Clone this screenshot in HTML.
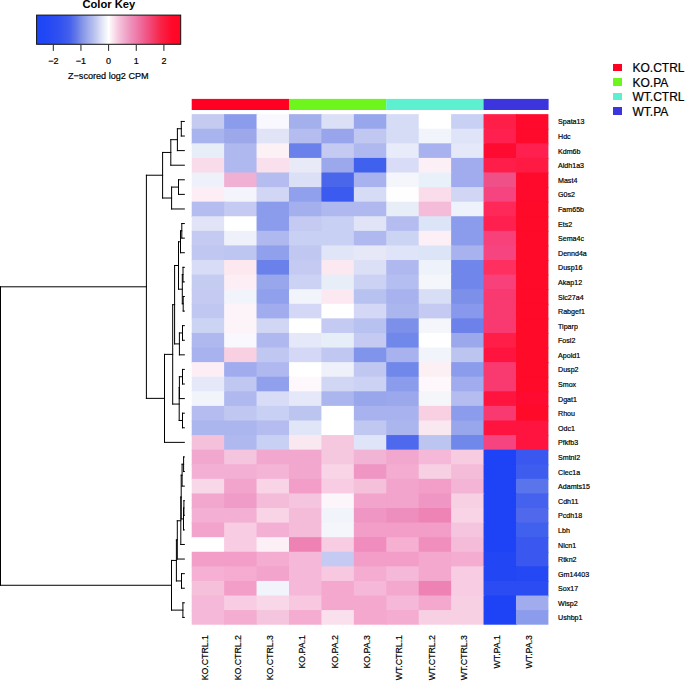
<!DOCTYPE html>
<html><head><meta charset="utf-8"><style>
html,body{margin:0;padding:0;background:#fff;}
body{width:685px;height:681px;position:relative;overflow:hidden;font-family:"Liberation Sans",sans-serif;color:#000;-webkit-font-smoothing:antialiased;}
.rl,.cl,.tk,.kt,.lt{-webkit-text-stroke:0.2px #000;}
svg{position:absolute;left:0;top:0;}
.title{position:absolute;left:82.4px;top:-0.78px;font-size:11.2px;line-height:1;font-weight:bold;white-space:nowrap;}
.tk{position:absolute;top:56.98px;font-size:9px;line-height:1;width:20px;margin-left:-10px;text-align:center;white-space:nowrap;}
.kt{position:absolute;left:68.0px;top:72.10px;font-size:9.1px;line-height:1;white-space:nowrap;}
.rl{position:absolute;left:558px;font-size:7.5px;line-height:1;white-space:nowrap;transform-origin:0 0;transform:scale(0.9467,1);}
.cl{position:absolute;top:634.9px;font-size:9.4px;line-height:1;white-space:nowrap;transform-origin:0 0;transform:rotate(-90deg) scale(0.9362,1) translateX(-100%);}
.lsq{position:absolute;left:613px;width:9px;height:7.4px;}
.lt{position:absolute;left:632.5px;font-size:12px;line-height:1;white-space:nowrap;}
</style></head><body>
<div class="title">Color Key</div>

<svg width="685" height="681" viewBox="0 0 685 681">
<defs><linearGradient id="kg" x1="36.6" x2="180.7" y1="0" y2="0" gradientUnits="userSpaceOnUse"><stop offset="0.0000" stop-color="#1C46F8"/><stop offset="0.0825" stop-color="#2448F4"/><stop offset="0.1555" stop-color="#3050F0"/><stop offset="0.2284" stop-color="#4460EC"/><stop offset="0.2726" stop-color="#6078E8"/><stop offset="0.3167" stop-color="#8494E8"/><stop offset="0.3589" stop-color="#A0ACEC"/><stop offset="0.4031" stop-color="#BCC4F0"/><stop offset="0.4472" stop-color="#DCE0F6"/><stop offset="0.4990" stop-color="#FFFFFF"/><stop offset="0.5278" stop-color="#FBE8F1"/><stop offset="0.5681" stop-color="#F6C6DE"/><stop offset="0.6411" stop-color="#EE98C0"/><stop offset="0.7140" stop-color="#EE70A0"/><stop offset="0.7869" stop-color="#F24878"/><stop offset="0.8599" stop-color="#F82448"/><stop offset="0.9328" stop-color="#FF0A2C"/><stop offset="1.0000" stop-color="#FF0522"/></linearGradient></defs>
<rect x="36.6" y="15.1" width="144.1" height="29.2" fill="url(#kg)" stroke="#111" stroke-width="1"/>
<g stroke="#222" stroke-width="1"><line x1="53.30" y1="44.8" x2="53.30" y2="50.9"/><line x1="80.95" y1="44.8" x2="80.95" y2="50.9"/><line x1="108.60" y1="44.8" x2="108.60" y2="50.9"/><line x1="136.25" y1="44.8" x2="136.25" y2="50.9"/><line x1="163.90" y1="44.8" x2="163.90" y2="50.9"/></g>
<rect x="191.70" y="98.9" width="97.48" height="11.1" fill="#FF0022"/><rect x="288.98" y="98.9" width="97.48" height="11.1" fill="#6EF51C"/><rect x="386.26" y="98.9" width="97.48" height="11.1" fill="#5CF0D0"/><rect x="483.55" y="98.9" width="65.05" height="11.1" fill="#3C34DC"/>
<rect x="191.70" y="114.15" width="33.43" height="15.59" fill="#C4CAF0"/><rect x="224.13" y="114.15" width="33.43" height="15.59" fill="#8C9CEC"/><rect x="256.55" y="114.15" width="33.43" height="15.59" fill="#F8F8FE"/><rect x="288.98" y="114.15" width="33.43" height="15.59" fill="#A4B0EC"/><rect x="321.41" y="114.15" width="33.43" height="15.59" fill="#DCE0F6"/><rect x="353.84" y="114.15" width="33.43" height="15.59" fill="#98A6EC"/><rect x="386.26" y="114.15" width="33.43" height="15.59" fill="#D6DCF6"/><rect x="418.69" y="114.15" width="33.43" height="15.59" fill="#FFFFFF"/><rect x="451.12" y="114.15" width="33.43" height="15.59" fill="#C8D0F4"/><rect x="483.55" y="114.15" width="33.43" height="15.59" fill="#FF1E48"/><rect x="515.97" y="114.15" width="32.43" height="15.59" fill="#FF0A2C"/><rect x="191.70" y="128.74" width="33.43" height="15.59" fill="#A8B4EE"/><rect x="224.13" y="128.74" width="33.43" height="15.59" fill="#9CA8EA"/><rect x="256.55" y="128.74" width="33.43" height="15.59" fill="#E0E4F6"/><rect x="288.98" y="128.74" width="33.43" height="15.59" fill="#B4BCF0"/><rect x="321.41" y="128.74" width="33.43" height="15.59" fill="#98A4EC"/><rect x="353.84" y="128.74" width="33.43" height="15.59" fill="#C0C8F2"/><rect x="386.26" y="128.74" width="33.43" height="15.59" fill="#D6DCF6"/><rect x="418.69" y="128.74" width="33.43" height="15.59" fill="#F2F4FC"/><rect x="451.12" y="128.74" width="33.43" height="15.59" fill="#E0E4F8"/><rect x="483.55" y="128.74" width="33.43" height="15.59" fill="#FF2050"/><rect x="515.97" y="128.74" width="32.43" height="15.59" fill="#FF0A2C"/><rect x="191.70" y="143.32" width="33.43" height="15.59" fill="#E8EEF8"/><rect x="224.13" y="143.32" width="33.43" height="15.59" fill="#B0B8F0"/><rect x="256.55" y="143.32" width="33.43" height="15.59" fill="#FCF2F6"/><rect x="288.98" y="143.32" width="33.43" height="15.59" fill="#6A80EA"/><rect x="321.41" y="143.32" width="33.43" height="15.59" fill="#C4CAF2"/><rect x="353.84" y="143.32" width="33.43" height="15.59" fill="#B0B8F0"/><rect x="386.26" y="143.32" width="33.43" height="15.59" fill="#E8ECFA"/><rect x="418.69" y="143.32" width="33.43" height="15.59" fill="#A8B2EE"/><rect x="451.12" y="143.32" width="33.43" height="15.59" fill="#E4E8F8"/><rect x="483.55" y="143.32" width="33.43" height="15.59" fill="#FF0A30"/><rect x="515.97" y="143.32" width="32.43" height="15.59" fill="#FF2050"/><rect x="191.70" y="157.91" width="33.43" height="15.59" fill="#F8DCEA"/><rect x="224.13" y="157.91" width="33.43" height="15.59" fill="#B0B8F0"/><rect x="256.55" y="157.91" width="33.43" height="15.59" fill="#FAE0EC"/><rect x="288.98" y="157.91" width="33.43" height="15.59" fill="#E8EAF8"/><rect x="321.41" y="157.91" width="33.43" height="15.59" fill="#9CA8EC"/><rect x="353.84" y="157.91" width="33.43" height="15.59" fill="#4060EE"/><rect x="386.26" y="157.91" width="33.43" height="15.59" fill="#D8DCF6"/><rect x="418.69" y="157.91" width="33.43" height="15.59" fill="#FCF0F6"/><rect x="451.12" y="157.91" width="33.43" height="15.59" fill="#A0ACEE"/><rect x="483.55" y="157.91" width="33.43" height="15.59" fill="#FF1E4A"/><rect x="515.97" y="157.91" width="32.43" height="15.59" fill="#FF1A44"/><rect x="191.70" y="172.50" width="33.43" height="15.59" fill="#EEF0FA"/><rect x="224.13" y="172.50" width="33.43" height="15.59" fill="#F0B0D4"/><rect x="256.55" y="172.50" width="33.43" height="15.59" fill="#B4BCF0"/><rect x="288.98" y="172.50" width="33.43" height="15.59" fill="#DCE0F6"/><rect x="321.41" y="172.50" width="33.43" height="15.59" fill="#4A66EA"/><rect x="353.84" y="172.50" width="33.43" height="15.59" fill="#A8B2EE"/><rect x="386.26" y="172.50" width="33.43" height="15.59" fill="#F4F6FC"/><rect x="418.69" y="172.50" width="33.43" height="15.59" fill="#E8F0FA"/><rect x="451.12" y="172.50" width="33.43" height="15.59" fill="#A0ACEE"/><rect x="483.55" y="172.50" width="33.43" height="15.59" fill="#F05088"/><rect x="515.97" y="172.50" width="32.43" height="15.59" fill="#FF0A2C"/><rect x="191.70" y="187.09" width="33.43" height="15.59" fill="#FCEEF4"/><rect x="224.13" y="187.09" width="33.43" height="15.59" fill="#F4F4FC"/><rect x="256.55" y="187.09" width="33.43" height="15.59" fill="#D0D6F4"/><rect x="288.98" y="187.09" width="33.43" height="15.59" fill="#90A0EC"/><rect x="321.41" y="187.09" width="33.43" height="15.59" fill="#3A5AF0"/><rect x="353.84" y="187.09" width="33.43" height="15.59" fill="#D6DCF6"/><rect x="386.26" y="187.09" width="33.43" height="15.59" fill="#FEFEFE"/><rect x="418.69" y="187.09" width="33.43" height="15.59" fill="#FBDCEA"/><rect x="451.12" y="187.09" width="33.43" height="15.59" fill="#D0D6F4"/><rect x="483.55" y="187.09" width="33.43" height="15.59" fill="#F54480"/><rect x="515.97" y="187.09" width="32.43" height="15.59" fill="#FF0A2C"/><rect x="191.70" y="201.67" width="33.43" height="15.59" fill="#B4BCF0"/><rect x="224.13" y="201.67" width="33.43" height="15.59" fill="#C4CAF2"/><rect x="256.55" y="201.67" width="33.43" height="15.59" fill="#8C9CEC"/><rect x="288.98" y="201.67" width="33.43" height="15.59" fill="#A4B0EE"/><rect x="321.41" y="201.67" width="33.43" height="15.59" fill="#B0B8F0"/><rect x="353.84" y="201.67" width="33.43" height="15.59" fill="#B0B8F0"/><rect x="386.26" y="201.67" width="33.43" height="15.59" fill="#E8EEF8"/><rect x="418.69" y="201.67" width="33.43" height="15.59" fill="#F4BCD8"/><rect x="451.12" y="201.67" width="33.43" height="15.59" fill="#EEF2FA"/><rect x="483.55" y="201.67" width="33.43" height="15.59" fill="#FF2858"/><rect x="515.97" y="201.67" width="32.43" height="15.59" fill="#FF0A28"/><rect x="191.70" y="216.26" width="33.43" height="15.59" fill="#E0E4F6"/><rect x="224.13" y="216.26" width="33.43" height="15.59" fill="#FFFFFF"/><rect x="256.55" y="216.26" width="33.43" height="15.59" fill="#8C9CEC"/><rect x="288.98" y="216.26" width="33.43" height="15.59" fill="#C4CAF2"/><rect x="321.41" y="216.26" width="33.43" height="15.59" fill="#C8D0F4"/><rect x="353.84" y="216.26" width="33.43" height="15.59" fill="#E0E4F6"/><rect x="386.26" y="216.26" width="33.43" height="15.59" fill="#B4BCF0"/><rect x="418.69" y="216.26" width="33.43" height="15.59" fill="#DCE4F8"/><rect x="451.12" y="216.26" width="33.43" height="15.59" fill="#8C9CEC"/><rect x="483.55" y="216.26" width="33.43" height="15.59" fill="#FF2050"/><rect x="515.97" y="216.26" width="32.43" height="15.59" fill="#FF0A28"/><rect x="191.70" y="230.85" width="33.43" height="15.59" fill="#C4CAF2"/><rect x="224.13" y="230.85" width="33.43" height="15.59" fill="#EEF0FA"/><rect x="256.55" y="230.85" width="33.43" height="15.59" fill="#B0B8F0"/><rect x="288.98" y="230.85" width="33.43" height="15.59" fill="#C8D0F4"/><rect x="321.41" y="230.85" width="33.43" height="15.59" fill="#C8D0F4"/><rect x="353.84" y="230.85" width="33.43" height="15.59" fill="#B0B8F0"/><rect x="386.26" y="230.85" width="33.43" height="15.59" fill="#CCD4F4"/><rect x="418.69" y="230.85" width="33.43" height="15.59" fill="#FCF0F6"/><rect x="451.12" y="230.85" width="33.43" height="15.59" fill="#8C9CEC"/><rect x="483.55" y="230.85" width="33.43" height="15.59" fill="#F8407A"/><rect x="515.97" y="230.85" width="32.43" height="15.59" fill="#FF0A28"/><rect x="191.70" y="245.43" width="33.43" height="15.59" fill="#C0C8F2"/><rect x="224.13" y="245.43" width="33.43" height="15.59" fill="#BCC6F0"/><rect x="256.55" y="245.43" width="33.43" height="15.59" fill="#90A0EC"/><rect x="288.98" y="245.43" width="33.43" height="15.59" fill="#C0C8F2"/><rect x="321.41" y="245.43" width="33.43" height="15.59" fill="#E0E6F8"/><rect x="353.84" y="245.43" width="33.43" height="15.59" fill="#E6E8F8"/><rect x="386.26" y="245.43" width="33.43" height="15.59" fill="#E0E4F8"/><rect x="418.69" y="245.43" width="33.43" height="15.59" fill="#DCE4F8"/><rect x="451.12" y="245.43" width="33.43" height="15.59" fill="#A8B2EE"/><rect x="483.55" y="245.43" width="33.43" height="15.59" fill="#F54480"/><rect x="515.97" y="245.43" width="32.43" height="15.59" fill="#FF0A28"/><rect x="191.70" y="260.02" width="33.43" height="15.59" fill="#D8DCF6"/><rect x="224.13" y="260.02" width="33.43" height="15.59" fill="#FCE8EE"/><rect x="256.55" y="260.02" width="33.43" height="15.59" fill="#6A80EA"/><rect x="288.98" y="260.02" width="33.43" height="15.59" fill="#C4CAF2"/><rect x="321.41" y="260.02" width="33.43" height="15.59" fill="#FCE8F0"/><rect x="353.84" y="260.02" width="33.43" height="15.59" fill="#DCE0F6"/><rect x="386.26" y="260.02" width="33.43" height="15.59" fill="#B0B8F0"/><rect x="418.69" y="260.02" width="33.43" height="15.59" fill="#EEF2FA"/><rect x="451.12" y="260.02" width="33.43" height="15.59" fill="#7086EA"/><rect x="483.55" y="260.02" width="33.43" height="15.59" fill="#FF3060"/><rect x="515.97" y="260.02" width="32.43" height="15.59" fill="#FF0A28"/><rect x="191.70" y="274.61" width="33.43" height="15.59" fill="#C4CCF2"/><rect x="224.13" y="274.61" width="33.43" height="15.59" fill="#FCEEF4"/><rect x="256.55" y="274.61" width="33.43" height="15.59" fill="#98A6EC"/><rect x="288.98" y="274.61" width="33.43" height="15.59" fill="#CCD2F4"/><rect x="321.41" y="274.61" width="33.43" height="15.59" fill="#E8EEF8"/><rect x="353.84" y="274.61" width="33.43" height="15.59" fill="#CCD2F4"/><rect x="386.26" y="274.61" width="33.43" height="15.59" fill="#B4BEF0"/><rect x="418.69" y="274.61" width="33.43" height="15.59" fill="#F4F6FC"/><rect x="451.12" y="274.61" width="33.43" height="15.59" fill="#7086EA"/><rect x="483.55" y="274.61" width="33.43" height="15.59" fill="#F8407A"/><rect x="515.97" y="274.61" width="32.43" height="15.59" fill="#FF0A28"/><rect x="191.70" y="289.20" width="33.43" height="15.59" fill="#C4CAF2"/><rect x="224.13" y="289.20" width="33.43" height="15.59" fill="#F2F4FC"/><rect x="256.55" y="289.20" width="33.43" height="15.59" fill="#90A0EC"/><rect x="288.98" y="289.20" width="33.43" height="15.59" fill="#F2F4FC"/><rect x="321.41" y="289.20" width="33.43" height="15.59" fill="#FCE8F0"/><rect x="353.84" y="289.20" width="33.43" height="15.59" fill="#B8C2F0"/><rect x="386.26" y="289.20" width="33.43" height="15.59" fill="#A8B2EE"/><rect x="418.69" y="289.20" width="33.43" height="15.59" fill="#D8DEF6"/><rect x="451.12" y="289.20" width="33.43" height="15.59" fill="#7C90EA"/><rect x="483.55" y="289.20" width="33.43" height="15.59" fill="#F83A70"/><rect x="515.97" y="289.20" width="32.43" height="15.59" fill="#FF0A28"/><rect x="191.70" y="303.78" width="33.43" height="15.59" fill="#C0C8F2"/><rect x="224.13" y="303.78" width="33.43" height="15.59" fill="#FCF4F8"/><rect x="256.55" y="303.78" width="33.43" height="15.59" fill="#A0ACEE"/><rect x="288.98" y="303.78" width="33.43" height="15.59" fill="#D4D8F6"/><rect x="321.41" y="303.78" width="33.43" height="15.59" fill="#FFFFFF"/><rect x="353.84" y="303.78" width="33.43" height="15.59" fill="#D4D8F6"/><rect x="386.26" y="303.78" width="33.43" height="15.59" fill="#ACB6EE"/><rect x="418.69" y="303.78" width="33.43" height="15.59" fill="#C4CAF2"/><rect x="451.12" y="303.78" width="33.43" height="15.59" fill="#8898EC"/><rect x="483.55" y="303.78" width="33.43" height="15.59" fill="#F83A70"/><rect x="515.97" y="303.78" width="32.43" height="15.59" fill="#FF0A28"/><rect x="191.70" y="318.37" width="33.43" height="15.59" fill="#CCD4F4"/><rect x="224.13" y="318.37" width="33.43" height="15.59" fill="#FCF4F8"/><rect x="256.55" y="318.37" width="33.43" height="15.59" fill="#D0D6F4"/><rect x="288.98" y="318.37" width="33.43" height="15.59" fill="#FFFFFF"/><rect x="321.41" y="318.37" width="33.43" height="15.59" fill="#C4CAF2"/><rect x="353.84" y="318.37" width="33.43" height="15.59" fill="#B8C2F0"/><rect x="386.26" y="318.37" width="33.43" height="15.59" fill="#7C90EA"/><rect x="418.69" y="318.37" width="33.43" height="15.59" fill="#F4F6FC"/><rect x="451.12" y="318.37" width="33.43" height="15.59" fill="#6C82EA"/><rect x="483.55" y="318.37" width="33.43" height="15.59" fill="#F83A70"/><rect x="515.97" y="318.37" width="32.43" height="15.59" fill="#FF0A28"/><rect x="191.70" y="332.96" width="33.43" height="15.59" fill="#B0B8F0"/><rect x="224.13" y="332.96" width="33.43" height="15.59" fill="#F8F8FE"/><rect x="256.55" y="332.96" width="33.43" height="15.59" fill="#B0B8F0"/><rect x="288.98" y="332.96" width="33.43" height="15.59" fill="#E4E8F8"/><rect x="321.41" y="332.96" width="33.43" height="15.59" fill="#E8EEF8"/><rect x="353.84" y="332.96" width="33.43" height="15.59" fill="#C4CAF2"/><rect x="386.26" y="332.96" width="33.43" height="15.59" fill="#7088EA"/><rect x="418.69" y="332.96" width="33.43" height="15.59" fill="#FFFFFF"/><rect x="451.12" y="332.96" width="33.43" height="15.59" fill="#9CA8EC"/><rect x="483.55" y="332.96" width="33.43" height="15.59" fill="#FF1E48"/><rect x="515.97" y="332.96" width="32.43" height="15.59" fill="#FF0A28"/><rect x="191.70" y="347.54" width="33.43" height="15.59" fill="#A8B2EE"/><rect x="224.13" y="347.54" width="33.43" height="15.59" fill="#F8D0E2"/><rect x="256.55" y="347.54" width="33.43" height="15.59" fill="#C0C8F2"/><rect x="288.98" y="347.54" width="33.43" height="15.59" fill="#D4D8F6"/><rect x="321.41" y="347.54" width="33.43" height="15.59" fill="#C0C8F2"/><rect x="353.84" y="347.54" width="33.43" height="15.59" fill="#8094EC"/><rect x="386.26" y="347.54" width="33.43" height="15.59" fill="#A8B2EE"/><rect x="418.69" y="347.54" width="33.43" height="15.59" fill="#F2F4FC"/><rect x="451.12" y="347.54" width="33.43" height="15.59" fill="#BCC4F0"/><rect x="483.55" y="347.54" width="33.43" height="15.59" fill="#FF1440"/><rect x="515.97" y="347.54" width="32.43" height="15.59" fill="#FF0A28"/><rect x="191.70" y="362.13" width="33.43" height="15.59" fill="#FCEEF4"/><rect x="224.13" y="362.13" width="33.43" height="15.59" fill="#A0ACEE"/><rect x="256.55" y="362.13" width="33.43" height="15.59" fill="#B0B8F0"/><rect x="288.98" y="362.13" width="33.43" height="15.59" fill="#FFFFFF"/><rect x="321.41" y="362.13" width="33.43" height="15.59" fill="#EEF0FA"/><rect x="353.84" y="362.13" width="33.43" height="15.59" fill="#C0C8F2"/><rect x="386.26" y="362.13" width="33.43" height="15.59" fill="#7088EA"/><rect x="418.69" y="362.13" width="33.43" height="15.59" fill="#FCF0F4"/><rect x="451.12" y="362.13" width="33.43" height="15.59" fill="#8C9CEC"/><rect x="483.55" y="362.13" width="33.43" height="15.59" fill="#F83A70"/><rect x="515.97" y="362.13" width="32.43" height="15.59" fill="#FF0A28"/><rect x="191.70" y="376.72" width="33.43" height="15.59" fill="#E4E8F8"/><rect x="224.13" y="376.72" width="33.43" height="15.59" fill="#C0C8F2"/><rect x="256.55" y="376.72" width="33.43" height="15.59" fill="#90A0EC"/><rect x="288.98" y="376.72" width="33.43" height="15.59" fill="#FEF8FC"/><rect x="321.41" y="376.72" width="33.43" height="15.59" fill="#D0D6F4"/><rect x="353.84" y="376.72" width="33.43" height="15.59" fill="#CCD2F4"/><rect x="386.26" y="376.72" width="33.43" height="15.59" fill="#8C9CEC"/><rect x="418.69" y="376.72" width="33.43" height="15.59" fill="#FEF8FC"/><rect x="451.12" y="376.72" width="33.43" height="15.59" fill="#A0ACEE"/><rect x="483.55" y="376.72" width="33.43" height="15.59" fill="#F83A70"/><rect x="515.97" y="376.72" width="32.43" height="15.59" fill="#FF0A28"/><rect x="191.70" y="391.31" width="33.43" height="15.59" fill="#F2F4FC"/><rect x="224.13" y="391.31" width="33.43" height="15.59" fill="#B0B8F0"/><rect x="256.55" y="391.31" width="33.43" height="15.59" fill="#D8DCF6"/><rect x="288.98" y="391.31" width="33.43" height="15.59" fill="#E4E8F8"/><rect x="321.41" y="391.31" width="33.43" height="15.59" fill="#ACB6EE"/><rect x="353.84" y="391.31" width="33.43" height="15.59" fill="#98A6EC"/><rect x="386.26" y="391.31" width="33.43" height="15.59" fill="#9CA8EC"/><rect x="418.69" y="391.31" width="33.43" height="15.59" fill="#F4F6FA"/><rect x="451.12" y="391.31" width="33.43" height="15.59" fill="#B4BCF0"/><rect x="483.55" y="391.31" width="33.43" height="15.59" fill="#FF1440"/><rect x="515.97" y="391.31" width="32.43" height="15.59" fill="#FF0A30"/><rect x="191.70" y="405.89" width="33.43" height="15.59" fill="#B4BCF0"/><rect x="224.13" y="405.89" width="33.43" height="15.59" fill="#C0C8F2"/><rect x="256.55" y="405.89" width="33.43" height="15.59" fill="#C8D0F4"/><rect x="288.98" y="405.89" width="33.43" height="15.59" fill="#BCC4F0"/><rect x="321.41" y="405.89" width="33.43" height="15.59" fill="#FFFFFF"/><rect x="353.84" y="405.89" width="33.43" height="15.59" fill="#A8B2EE"/><rect x="386.26" y="405.89" width="33.43" height="15.59" fill="#A8B2EE"/><rect x="418.69" y="405.89" width="33.43" height="15.59" fill="#F8D0E2"/><rect x="451.12" y="405.89" width="33.43" height="15.59" fill="#8C9CEC"/><rect x="483.55" y="405.89" width="33.43" height="15.59" fill="#F83A70"/><rect x="515.97" y="405.89" width="32.43" height="15.59" fill="#FF0A28"/><rect x="191.70" y="420.48" width="33.43" height="15.59" fill="#ACB6EE"/><rect x="224.13" y="420.48" width="33.43" height="15.59" fill="#ACB6EE"/><rect x="256.55" y="420.48" width="33.43" height="15.59" fill="#B4BCF0"/><rect x="288.98" y="420.48" width="33.43" height="15.59" fill="#E0E6F8"/><rect x="321.41" y="420.48" width="33.43" height="15.59" fill="#FFFFFF"/><rect x="353.84" y="420.48" width="33.43" height="15.59" fill="#C0C8F2"/><rect x="386.26" y="420.48" width="33.43" height="15.59" fill="#ACB6EE"/><rect x="418.69" y="420.48" width="33.43" height="15.59" fill="#FAE8F0"/><rect x="451.12" y="420.48" width="33.43" height="15.59" fill="#98A6EC"/><rect x="483.55" y="420.48" width="33.43" height="15.59" fill="#FF1440"/><rect x="515.97" y="420.48" width="32.43" height="15.59" fill="#FF1440"/><rect x="191.70" y="435.07" width="33.43" height="15.59" fill="#F5C0DA"/><rect x="224.13" y="435.07" width="33.43" height="15.59" fill="#B0B8F0"/><rect x="256.55" y="435.07" width="33.43" height="15.59" fill="#C8D0F4"/><rect x="288.98" y="435.07" width="33.43" height="15.59" fill="#FAE8F0"/><rect x="321.41" y="435.07" width="33.43" height="15.59" fill="#F5C8E0"/><rect x="353.84" y="435.07" width="33.43" height="15.59" fill="#E0E4F8"/><rect x="386.26" y="435.07" width="33.43" height="15.59" fill="#4E68EE"/><rect x="418.69" y="435.07" width="33.43" height="15.59" fill="#BCC4F0"/><rect x="451.12" y="435.07" width="33.43" height="15.59" fill="#7088EA"/><rect x="483.55" y="435.07" width="33.43" height="15.59" fill="#F54480"/><rect x="515.97" y="435.07" width="32.43" height="15.59" fill="#FF1440"/><rect x="191.70" y="449.65" width="33.43" height="15.59" fill="#F2A8CE"/><rect x="224.13" y="449.65" width="33.43" height="15.59" fill="#F5C4DE"/><rect x="256.55" y="449.65" width="33.43" height="15.59" fill="#F2A8CE"/><rect x="288.98" y="449.65" width="33.43" height="15.59" fill="#F2A8CE"/><rect x="321.41" y="449.65" width="33.43" height="15.59" fill="#F5C8E0"/><rect x="353.84" y="449.65" width="33.43" height="15.59" fill="#F2B4D4"/><rect x="386.26" y="449.65" width="33.43" height="15.59" fill="#F2A8CE"/><rect x="418.69" y="449.65" width="33.43" height="15.59" fill="#F5B8D8"/><rect x="451.12" y="449.65" width="33.43" height="15.59" fill="#F8CCE0"/><rect x="483.55" y="449.65" width="33.43" height="15.59" fill="#1E42F5"/><rect x="515.97" y="449.65" width="32.43" height="15.59" fill="#3A58F0"/><rect x="191.70" y="464.24" width="33.43" height="15.59" fill="#F4B0D4"/><rect x="224.13" y="464.24" width="33.43" height="15.59" fill="#F4B0D4"/><rect x="256.55" y="464.24" width="33.43" height="15.59" fill="#F4B4D6"/><rect x="288.98" y="464.24" width="33.43" height="15.59" fill="#F2A8CE"/><rect x="321.41" y="464.24" width="33.43" height="15.59" fill="#F8D4E6"/><rect x="353.84" y="464.24" width="33.43" height="15.59" fill="#F096C4"/><rect x="386.26" y="464.24" width="33.43" height="15.59" fill="#F4ACD0"/><rect x="418.69" y="464.24" width="33.43" height="15.59" fill="#F8D0E4"/><rect x="451.12" y="464.24" width="33.43" height="15.59" fill="#F5BCDA"/><rect x="483.55" y="464.24" width="33.43" height="15.59" fill="#1E42F5"/><rect x="515.97" y="464.24" width="32.43" height="15.59" fill="#3E5CEE"/><rect x="191.70" y="478.83" width="33.43" height="15.59" fill="#F8D8E8"/><rect x="224.13" y="478.83" width="33.43" height="15.59" fill="#F2A4CC"/><rect x="256.55" y="478.83" width="33.43" height="15.59" fill="#F8D4E6"/><rect x="288.98" y="478.83" width="33.43" height="15.59" fill="#F29EC8"/><rect x="321.41" y="478.83" width="33.43" height="15.59" fill="#F8CCE2"/><rect x="353.84" y="478.83" width="33.43" height="15.59" fill="#F5C0DA"/><rect x="386.26" y="478.83" width="33.43" height="15.59" fill="#F2A4CC"/><rect x="418.69" y="478.83" width="33.43" height="15.59" fill="#F29EC8"/><rect x="451.12" y="478.83" width="33.43" height="15.59" fill="#F4B4D6"/><rect x="483.55" y="478.83" width="33.43" height="15.59" fill="#1E42F5"/><rect x="515.97" y="478.83" width="32.43" height="15.59" fill="#5A74EC"/><rect x="191.70" y="493.42" width="33.43" height="15.59" fill="#F2A8CE"/><rect x="224.13" y="493.42" width="33.43" height="15.59" fill="#F09CC8"/><rect x="256.55" y="493.42" width="33.43" height="15.59" fill="#F5BCDA"/><rect x="288.98" y="493.42" width="33.43" height="15.59" fill="#F5C4DE"/><rect x="321.41" y="493.42" width="33.43" height="15.59" fill="#FCF6FA"/><rect x="353.84" y="493.42" width="33.43" height="15.59" fill="#F2A4CC"/><rect x="386.26" y="493.42" width="33.43" height="15.59" fill="#F2A4CC"/><rect x="418.69" y="493.42" width="33.43" height="15.59" fill="#F096C4"/><rect x="451.12" y="493.42" width="33.43" height="15.59" fill="#F8D0E4"/><rect x="483.55" y="493.42" width="33.43" height="15.59" fill="#1E42F5"/><rect x="515.97" y="493.42" width="32.43" height="15.59" fill="#4462EE"/><rect x="191.70" y="508.00" width="33.43" height="15.59" fill="#F4B0D4"/><rect x="224.13" y="508.00" width="33.43" height="15.59" fill="#F4B0D4"/><rect x="256.55" y="508.00" width="33.43" height="15.59" fill="#F8D4E6"/><rect x="288.98" y="508.00" width="33.43" height="15.59" fill="#F5BCDA"/><rect x="321.41" y="508.00" width="33.43" height="15.59" fill="#F2F4FC"/><rect x="353.84" y="508.00" width="33.43" height="15.59" fill="#F096C4"/><rect x="386.26" y="508.00" width="33.43" height="15.59" fill="#EE8EBE"/><rect x="418.69" y="508.00" width="33.43" height="15.59" fill="#EE84B6"/><rect x="451.12" y="508.00" width="33.43" height="15.59" fill="#F8D4E6"/><rect x="483.55" y="508.00" width="33.43" height="15.59" fill="#1E42F5"/><rect x="515.97" y="508.00" width="32.43" height="15.59" fill="#5068EC"/><rect x="191.70" y="522.59" width="33.43" height="15.59" fill="#F2A4CC"/><rect x="224.13" y="522.59" width="33.43" height="15.59" fill="#F8CCE2"/><rect x="256.55" y="522.59" width="33.43" height="15.59" fill="#F4B0D4"/><rect x="288.98" y="522.59" width="33.43" height="15.59" fill="#F5BCDA"/><rect x="321.41" y="522.59" width="33.43" height="15.59" fill="#F4F6FC"/><rect x="353.84" y="522.59" width="33.43" height="15.59" fill="#F29EC8"/><rect x="386.26" y="522.59" width="33.43" height="15.59" fill="#F29EC8"/><rect x="418.69" y="522.59" width="33.43" height="15.59" fill="#F29EC8"/><rect x="451.12" y="522.59" width="33.43" height="15.59" fill="#F5C4DE"/><rect x="483.55" y="522.59" width="33.43" height="15.59" fill="#1E42F5"/><rect x="515.97" y="522.59" width="32.43" height="15.59" fill="#4060EE"/><rect x="191.70" y="537.18" width="33.43" height="15.59" fill="#FFFFFF"/><rect x="224.13" y="537.18" width="33.43" height="15.59" fill="#F8CCE2"/><rect x="256.55" y="537.18" width="33.43" height="15.59" fill="#FCF0F6"/><rect x="288.98" y="537.18" width="33.43" height="15.59" fill="#EE82B4"/><rect x="321.41" y="537.18" width="33.43" height="15.59" fill="#F8CCE2"/><rect x="353.84" y="537.18" width="33.43" height="15.59" fill="#F08CBE"/><rect x="386.26" y="537.18" width="33.43" height="15.59" fill="#F5B0D2"/><rect x="418.69" y="537.18" width="33.43" height="15.59" fill="#F08EBE"/><rect x="451.12" y="537.18" width="33.43" height="15.59" fill="#F5BCDA"/><rect x="483.55" y="537.18" width="33.43" height="15.59" fill="#1E42F5"/><rect x="515.97" y="537.18" width="32.43" height="15.59" fill="#3A58F0"/><rect x="191.70" y="551.76" width="33.43" height="15.59" fill="#F29EC8"/><rect x="224.13" y="551.76" width="33.43" height="15.59" fill="#F29EC8"/><rect x="256.55" y="551.76" width="33.43" height="15.59" fill="#F4ACD0"/><rect x="288.98" y="551.76" width="33.43" height="15.59" fill="#F5B8D8"/><rect x="321.41" y="551.76" width="33.43" height="15.59" fill="#C4CAF2"/><rect x="353.84" y="551.76" width="33.43" height="15.59" fill="#F29EC8"/><rect x="386.26" y="551.76" width="33.43" height="15.59" fill="#F29EC8"/><rect x="418.69" y="551.76" width="33.43" height="15.59" fill="#F4A8CE"/><rect x="451.12" y="551.76" width="33.43" height="15.59" fill="#F4ACD0"/><rect x="483.55" y="551.76" width="33.43" height="15.59" fill="#2246F4"/><rect x="515.97" y="551.76" width="32.43" height="15.59" fill="#3A58F0"/><rect x="191.70" y="566.35" width="33.43" height="15.59" fill="#F5B0D4"/><rect x="224.13" y="566.35" width="33.43" height="15.59" fill="#F5ACD0"/><rect x="256.55" y="566.35" width="33.43" height="15.59" fill="#F2A4CC"/><rect x="288.98" y="566.35" width="33.43" height="15.59" fill="#F5B8D8"/><rect x="321.41" y="566.35" width="33.43" height="15.59" fill="#F8C8E0"/><rect x="353.84" y="566.35" width="33.43" height="15.59" fill="#F4ACD0"/><rect x="386.26" y="566.35" width="33.43" height="15.59" fill="#F5B8D8"/><rect x="418.69" y="566.35" width="33.43" height="15.59" fill="#F4A8CE"/><rect x="451.12" y="566.35" width="33.43" height="15.59" fill="#F8CCE2"/><rect x="483.55" y="566.35" width="33.43" height="15.59" fill="#2246F4"/><rect x="515.97" y="566.35" width="32.43" height="15.59" fill="#2448F4"/><rect x="191.70" y="580.94" width="33.43" height="15.59" fill="#F5C0DA"/><rect x="224.13" y="580.94" width="33.43" height="15.59" fill="#F29EC8"/><rect x="256.55" y="580.94" width="33.43" height="15.59" fill="#F2F4FC"/><rect x="288.98" y="580.94" width="33.43" height="15.59" fill="#F5B8D8"/><rect x="321.41" y="580.94" width="33.43" height="15.59" fill="#F4A8CE"/><rect x="353.84" y="580.94" width="33.43" height="15.59" fill="#F5B8D8"/><rect x="386.26" y="580.94" width="33.43" height="15.59" fill="#F4A8CE"/><rect x="418.69" y="580.94" width="33.43" height="15.59" fill="#EE82B4"/><rect x="451.12" y="580.94" width="33.43" height="15.59" fill="#F8CCE2"/><rect x="483.55" y="580.94" width="33.43" height="15.59" fill="#2A4CF2"/><rect x="515.97" y="580.94" width="32.43" height="15.59" fill="#2A4CF2"/><rect x="191.70" y="595.53" width="33.43" height="15.59" fill="#F5B8D8"/><rect x="224.13" y="595.53" width="33.43" height="15.59" fill="#F8CCE2"/><rect x="256.55" y="595.53" width="33.43" height="15.59" fill="#F8D8E8"/><rect x="288.98" y="595.53" width="33.43" height="15.59" fill="#F8C8E0"/><rect x="321.41" y="595.53" width="33.43" height="15.59" fill="#F4A8CE"/><rect x="353.84" y="595.53" width="33.43" height="15.59" fill="#F4A8CE"/><rect x="386.26" y="595.53" width="33.43" height="15.59" fill="#F5B8D8"/><rect x="418.69" y="595.53" width="33.43" height="15.59" fill="#F4A8CE"/><rect x="451.12" y="595.53" width="33.43" height="15.59" fill="#F8D0E4"/><rect x="483.55" y="595.53" width="33.43" height="15.59" fill="#1E42F5"/><rect x="515.97" y="595.53" width="32.43" height="15.59" fill="#A0ACEE"/><rect x="191.70" y="610.11" width="33.43" height="14.59" fill="#F5B8D8"/><rect x="224.13" y="610.11" width="33.43" height="14.59" fill="#F4ACD0"/><rect x="256.55" y="610.11" width="33.43" height="14.59" fill="#F5C4DE"/><rect x="288.98" y="610.11" width="33.43" height="14.59" fill="#F4ACD0"/><rect x="321.41" y="610.11" width="33.43" height="14.59" fill="#FAE0EC"/><rect x="353.84" y="610.11" width="33.43" height="14.59" fill="#F4A8CE"/><rect x="386.26" y="610.11" width="33.43" height="14.59" fill="#F4ACD0"/><rect x="418.69" y="610.11" width="33.43" height="14.59" fill="#F8D0E4"/><rect x="451.12" y="610.11" width="33.43" height="14.59" fill="#F8D0E4"/><rect x="483.55" y="610.11" width="33.43" height="14.59" fill="#1E42F5"/><rect x="515.97" y="610.11" width="32.43" height="14.59" fill="#8C9CEC"/>
<g stroke="#000" stroke-width="1" fill="none" stroke-linecap="square"><line x1="181.30" y1="121.44" x2="184.35" y2="121.44"/><line x1="181.30" y1="136.03" x2="184.35" y2="136.03"/><line x1="181.30" y1="121.44" x2="181.30" y2="136.03"/><line x1="177.40" y1="128.74" x2="181.30" y2="128.74"/><line x1="177.40" y1="150.62" x2="184.35" y2="150.62"/><line x1="177.40" y1="128.74" x2="177.40" y2="150.62"/><line x1="170.80" y1="139.68" x2="177.40" y2="139.68"/><line x1="170.80" y1="165.21" x2="184.35" y2="165.21"/><line x1="170.80" y1="139.68" x2="170.80" y2="165.21"/><line x1="178.50" y1="179.79" x2="184.35" y2="179.79"/><line x1="178.50" y1="194.38" x2="184.35" y2="194.38"/><line x1="178.50" y1="179.79" x2="178.50" y2="194.38"/><line x1="171.60" y1="187.09" x2="178.50" y2="187.09"/><line x1="171.60" y1="208.97" x2="184.35" y2="208.97"/><line x1="171.60" y1="187.09" x2="171.60" y2="208.97"/><line x1="162.60" y1="152.44" x2="170.80" y2="152.44"/><line x1="162.60" y1="198.03" x2="171.60" y2="198.03"/><line x1="162.60" y1="152.44" x2="162.60" y2="198.03"/><line x1="181.80" y1="223.55" x2="184.35" y2="223.55"/><line x1="181.80" y1="238.14" x2="184.35" y2="238.14"/><line x1="181.80" y1="223.55" x2="181.80" y2="238.14"/><line x1="180.50" y1="230.85" x2="181.80" y2="230.85"/><line x1="180.50" y1="252.73" x2="184.35" y2="252.73"/><line x1="180.50" y1="230.85" x2="180.50" y2="252.73"/><line x1="183.00" y1="267.32" x2="184.35" y2="267.32"/><line x1="183.00" y1="281.90" x2="184.35" y2="281.90"/><line x1="183.00" y1="267.32" x2="183.00" y2="281.90"/><line x1="183.20" y1="296.49" x2="184.35" y2="296.49"/><line x1="183.20" y1="311.08" x2="184.35" y2="311.08"/><line x1="183.20" y1="296.49" x2="183.20" y2="311.08"/><line x1="182.30" y1="274.61" x2="183.00" y2="274.61"/><line x1="182.30" y1="303.78" x2="183.20" y2="303.78"/><line x1="182.30" y1="274.61" x2="182.30" y2="303.78"/><line x1="178.50" y1="241.79" x2="180.50" y2="241.79"/><line x1="178.50" y1="289.20" x2="182.30" y2="289.20"/><line x1="178.50" y1="241.79" x2="178.50" y2="289.20"/><line x1="182.50" y1="325.66" x2="184.35" y2="325.66"/><line x1="182.50" y1="340.25" x2="184.35" y2="340.25"/><line x1="182.50" y1="325.66" x2="182.50" y2="340.25"/><line x1="179.40" y1="332.96" x2="182.50" y2="332.96"/><line x1="179.40" y1="354.84" x2="184.35" y2="354.84"/><line x1="179.40" y1="332.96" x2="179.40" y2="354.84"/><line x1="174.60" y1="265.49" x2="178.50" y2="265.49"/><line x1="174.60" y1="343.90" x2="179.40" y2="343.90"/><line x1="174.60" y1="265.49" x2="174.60" y2="343.90"/><line x1="182.50" y1="369.43" x2="184.35" y2="369.43"/><line x1="182.50" y1="384.01" x2="184.35" y2="384.01"/><line x1="182.50" y1="369.43" x2="182.50" y2="384.01"/><line x1="179.40" y1="376.72" x2="182.50" y2="376.72"/><line x1="179.40" y1="398.60" x2="184.35" y2="398.60"/><line x1="179.40" y1="376.72" x2="179.40" y2="398.60"/><line x1="182.50" y1="413.19" x2="184.35" y2="413.19"/><line x1="182.50" y1="427.77" x2="184.35" y2="427.77"/><line x1="182.50" y1="413.19" x2="182.50" y2="427.77"/><line x1="179.20" y1="387.66" x2="179.40" y2="387.66"/><line x1="179.20" y1="420.48" x2="182.50" y2="420.48"/><line x1="179.20" y1="387.66" x2="179.20" y2="420.48"/><line x1="172.70" y1="304.69" x2="174.60" y2="304.69"/><line x1="172.70" y1="404.07" x2="179.20" y2="404.07"/><line x1="172.70" y1="304.69" x2="172.70" y2="404.07"/><line x1="164.50" y1="354.38" x2="172.70" y2="354.38"/><line x1="164.50" y1="442.36" x2="184.35" y2="442.36"/><line x1="164.50" y1="354.38" x2="164.50" y2="442.36"/><line x1="146.40" y1="175.23" x2="162.60" y2="175.23"/><line x1="146.40" y1="398.37" x2="164.50" y2="398.37"/><line x1="146.40" y1="175.23" x2="146.40" y2="398.37"/><line x1="183.60" y1="456.95" x2="184.35" y2="456.95"/><line x1="183.60" y1="471.54" x2="184.35" y2="471.54"/><line x1="183.60" y1="456.95" x2="183.60" y2="471.54"/><line x1="182.10" y1="464.24" x2="183.60" y2="464.24"/><line x1="182.10" y1="486.12" x2="184.35" y2="486.12"/><line x1="182.10" y1="464.24" x2="182.10" y2="486.12"/><line x1="183.90" y1="500.71" x2="184.35" y2="500.71"/><line x1="183.90" y1="515.30" x2="184.35" y2="515.30"/><line x1="183.90" y1="500.71" x2="183.90" y2="515.30"/><line x1="183.50" y1="508.00" x2="183.90" y2="508.00"/><line x1="183.50" y1="529.88" x2="184.35" y2="529.88"/><line x1="183.50" y1="508.00" x2="183.50" y2="529.88"/><line x1="181.20" y1="475.18" x2="182.10" y2="475.18"/><line x1="181.20" y1="518.94" x2="183.50" y2="518.94"/><line x1="181.20" y1="475.18" x2="181.20" y2="518.94"/><line x1="180.80" y1="497.06" x2="181.20" y2="497.06"/><line x1="180.80" y1="544.47" x2="184.35" y2="544.47"/><line x1="180.80" y1="497.06" x2="180.80" y2="544.47"/><line x1="177.30" y1="520.77" x2="180.80" y2="520.77"/><line x1="177.30" y1="559.06" x2="184.35" y2="559.06"/><line x1="177.30" y1="520.77" x2="177.30" y2="559.06"/><line x1="181.50" y1="573.65" x2="184.35" y2="573.65"/><line x1="181.50" y1="588.23" x2="184.35" y2="588.23"/><line x1="181.50" y1="573.65" x2="181.50" y2="588.23"/><line x1="176.40" y1="539.91" x2="177.30" y2="539.91"/><line x1="176.40" y1="580.94" x2="181.50" y2="580.94"/><line x1="176.40" y1="539.91" x2="176.40" y2="580.94"/><line x1="182.90" y1="602.82" x2="184.35" y2="602.82"/><line x1="182.90" y1="617.41" x2="184.35" y2="617.41"/><line x1="182.90" y1="602.82" x2="182.90" y2="617.41"/><line x1="171.50" y1="560.43" x2="176.40" y2="560.43"/><line x1="171.50" y1="610.11" x2="182.90" y2="610.11"/><line x1="171.50" y1="560.43" x2="171.50" y2="610.11"/><line x1="0.50" y1="286.80" x2="146.40" y2="286.80"/><line x1="0.50" y1="585.27" x2="171.50" y2="585.27"/><line x1="0.50" y1="286.80" x2="0.50" y2="585.27"/></g>
</svg>
<div class="tk" style="left:53.30px">−2</div><div class="tk" style="left:80.95px">−1</div><div class="tk" style="left:108.60px">0</div><div class="tk" style="left:136.25px">1</div><div class="tk" style="left:163.90px">2</div>
<div class="kt">Z−scored log2 CPM</div>
<div class="lsq" style="top:63.70px;background:#FF0022"></div><div class="lt" style="top:62.24px">KO.CTRL</div><div class="lsq" style="top:78.17px;background:#6EF51C"></div><div class="lt" style="top:76.71px">KO.PA</div><div class="lsq" style="top:92.64px;background:#5CF0D0"></div><div class="lt" style="top:91.18px">WT.CTRL</div><div class="lsq" style="top:107.11px;background:#3C34DC"></div><div class="lt" style="top:105.65px">WT.PA</div>
<div class="rl" style="top:118.49px">Spata13</div><div class="rl" style="top:133.08px">Hdc</div><div class="rl" style="top:147.67px">Kdm6b</div><div class="rl" style="top:162.26px">Aldh1a3</div><div class="rl" style="top:176.84px">Mast4</div><div class="rl" style="top:191.43px">G0s2</div><div class="rl" style="top:206.02px">Fam65b</div><div class="rl" style="top:220.60px">Ets2</div><div class="rl" style="top:235.19px">Sema4c</div><div class="rl" style="top:249.78px">Dennd4a</div><div class="rl" style="top:264.37px">Dusp16</div><div class="rl" style="top:278.95px">Akap12</div><div class="rl" style="top:293.54px">Slc27a4</div><div class="rl" style="top:308.13px">Rabgef1</div><div class="rl" style="top:322.71px">Tiparp</div><div class="rl" style="top:337.30px">Fosl2</div><div class="rl" style="top:351.89px">Apold1</div><div class="rl" style="top:366.48px">Dusp2</div><div class="rl" style="top:381.06px">Smox</div><div class="rl" style="top:395.65px">Dgat1</div><div class="rl" style="top:410.24px">Rhou</div><div class="rl" style="top:424.82px">Odc1</div><div class="rl" style="top:439.41px">Pfkfb3</div><div class="rl" style="top:454.00px">Smtnl2</div><div class="rl" style="top:468.59px">Clec1a</div><div class="rl" style="top:483.17px">Adamts15</div><div class="rl" style="top:497.76px">Cdh11</div><div class="rl" style="top:512.35px">Pcdh18</div><div class="rl" style="top:526.93px">Lbh</div><div class="rl" style="top:541.52px">Nlcn1</div><div class="rl" style="top:556.11px">Rtkn2</div><div class="rl" style="top:570.70px">Gm14403</div><div class="rl" style="top:585.28px">Sox17</div><div class="rl" style="top:599.87px">Wisp2</div><div class="rl" style="top:614.46px">Ushbp1</div>
<div class="cl" style="left:200.24px">KO.CTRL.1</div><div class="cl" style="left:232.61px">KO.CTRL.2</div><div class="cl" style="left:264.98px">KO.CTRL.3</div><div class="cl" style="left:297.35px">KO.PA.1</div><div class="cl" style="left:329.72px">KO.PA.2</div><div class="cl" style="left:362.09px">KO.PA.3</div><div class="cl" style="left:394.46px">WT.CTRL.1</div><div class="cl" style="left:426.83px">WT.CTRL.2</div><div class="cl" style="left:459.20px">WT.CTRL.3</div><div class="cl" style="left:491.57px">WT.PA.1</div><div class="cl" style="left:523.94px">WT.PA.3</div>
</body></html>
